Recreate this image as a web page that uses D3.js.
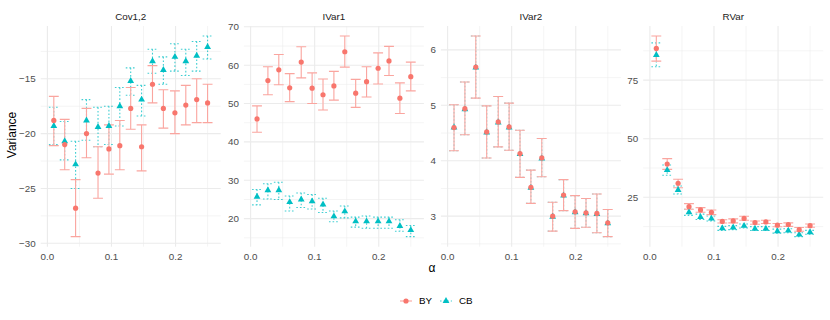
<!DOCTYPE html>
<html>
<head>
<meta charset="utf-8">
<script src="https://cdn.jsdelivr.net/npm/d3@7"></script>
<style>
  body { margin: 0; background: #fff; }
  svg text { font-family: "Liberation Sans", Arial, sans-serif; }
</style>
</head>
<body>
<svg id="chart" width="830" height="320"></svg>
<script>
// alpha values on the x axis
const alpha = [0.010, 0.027, 0.044, 0.061, 0.079, 0.096, 0.113, 0.130, 0.147, 0.164, 0.181, 0.199, 0.216, 0.233, 0.250];

const panelNames = ["Cov1,2", "IVar1", "IVar2", "RVar"];
const methods = ["BY", "CB"];
const xTicks = [0.0, 0.1, 0.2];
const yTicks = [[-30, -25, -20, -15], [20, 30, 40, 50, 60, 70], [3, 4, 5, 6], [25, 50, 75]];

// Cov1,2
const cov_BY    = [-18.8, -21.0, -26.8, -20.0, -23.6, -21.4, -21.1, -17.7, -21.2, -15.5, -17.7, -18.1, -17.4, -16.9, -17.2];
const cov_BY_lo = [-21.1, -23.3, -29.4, -22.2, -25.9, -23.7, -23.3, -19.6, -23.4, -17.2, -19.5, -20.0, -19.2, -19.0, -19.0];
const cov_BY_hi = [-16.6, -18.7, -24.2, -17.7, -21.2, -19.2, -18.8, -15.8, -19.2, -13.8, -16.0, -16.1, -15.6, -15.0, -15.5];
const cov_CB    = [-19.3, -20.7, -22.8, -18.8, -19.4, -19.3, -17.5, -15.2, -16.9, -13.4, -14.2, -13.0, -13.4, -12.9, -12.1];
const cov_CB_lo = [-21.0, -22.4, -25.0, -20.6, -21.2, -21.0, -19.3, -16.5, -18.4, -14.5, -15.5, -14.3, -14.7, -14.3, -13.2];
const cov_CB_hi = [-17.6, -18.9, -20.7, -16.9, -17.6, -17.5, -15.8, -14.0, -15.6, -12.3, -13.0, -11.8, -12.3, -11.6, -11.1];

// IVar1
const iv1_BY    = [46.0, 56.0, 58.8, 54.1, 60.8, 54.0, 52.3, 54.6, 63.5, 52.7, 55.7, 59.2, 61.1, 51.4, 57.0];
const iv1_BY_lo = [42.5, 52.3, 54.9, 50.5, 56.7, 50.0, 48.3, 50.9, 59.5, 49.0, 51.7, 55.1, 57.3, 47.4, 53.3];
const iv1_BY_hi = [49.4, 59.6, 62.8, 57.8, 64.8, 58.0, 56.4, 58.4, 67.6, 56.3, 59.6, 63.2, 64.9, 55.4, 60.8];
const iv1_CB    = [25.7, 27.4, 27.4, 24.3, 25.0, 24.5, 23.7, 20.6, 21.9, 19.3, 19.3, 19.3, 19.3, 18.1, 17.0];
const iv1_CB_lo = [23.6, 25.1, 25.0, 22.0, 22.9, 22.5, 21.6, 19.2, 20.2, 17.8, 17.5, 17.5, 17.5, 16.7, 15.3];
const iv1_CB_hi = [27.6, 29.1, 29.5, 25.9, 26.7, 26.3, 25.3, 22.0, 23.3, 20.4, 20.7, 20.4, 20.4, 19.7, 18.2];

// IVar2
const iv2_BY    = [4.60, 4.94, 5.69, 4.52, 4.70, 4.61, 4.13, 3.52, 4.05, 3.00, 3.38, 3.08, 3.06, 3.05, 2.88];
const iv2_BY_lo = [4.18, 4.47, 5.13, 4.05, 4.25, 4.19, 3.70, 3.23, 3.71, 2.73, 3.10, 2.78, 2.80, 2.70, 2.63];
const iv2_BY_hi = [5.01, 5.42, 6.25, 4.99, 5.16, 5.04, 4.55, 3.83, 4.40, 3.25, 3.66, 3.37, 3.32, 3.40, 3.12];
const iv2_CB    = [4.60, 4.93, 5.68, 4.51, 4.69, 4.60, 4.12, 3.51, 4.04, 2.99, 3.37, 3.07, 3.05, 3.04, 2.87];
const iv2_CB_lo = [4.18, 4.47, 5.13, 4.05, 4.25, 4.19, 3.70, 3.23, 3.71, 2.73, 3.10, 2.78, 2.80, 2.70, 2.63];
const iv2_CB_hi = [5.01, 5.42, 6.25, 4.99, 5.16, 5.04, 4.55, 3.83, 4.40, 3.25, 3.66, 3.37, 3.32, 3.40, 3.12];

// RVar
const rv_BY    = [88.5, 39.2, 31.0, 21.0, 19.6, 18.6, 14.7, 14.9, 16.0, 14.2, 14.5, 13.1, 13.4, 11.2, 12.9];
const rv_BY_lo = [83.1, 36.9, 29.1, 19.9, 18.6, 17.6, 14.0, 14.1, 15.2, 13.5, 13.8, 12.4, 12.6, 10.5, 12.2];
const rv_BY_hi = [93.8, 41.5, 32.7, 22.3, 20.6, 19.6, 15.4, 15.8, 16.9, 14.9, 15.2, 13.8, 14.1, 12.1, 13.6];
const rv_CB    = [85.7, 36.6, 28.1, 18.6, 16.6, 15.9, 11.8, 12.1, 12.8, 11.6, 11.6, 10.5, 10.8, 9.1, 10.1];
const rv_CB_lo = [80.7, 34.4, 26.4, 17.3, 15.5, 14.9, 10.9, 11.2, 11.9, 10.8, 10.8, 9.7, 9.9, 8.2, 9.2];
const rv_CB_hi = [90.9, 38.8, 29.8, 19.9, 17.8, 17.0, 12.6, 12.9, 13.6, 12.5, 12.5, 11.4, 11.6, 9.9, 10.9];

const panelData = [
    { BY: [cov_BY, cov_BY_lo, cov_BY_hi], CB: [cov_CB, cov_CB_lo, cov_CB_hi] },
    { BY: [iv1_BY, iv1_BY_lo, iv1_BY_hi], CB: [iv1_CB, iv1_CB_lo, iv1_CB_hi] },
    { BY: [iv2_BY, iv2_BY_lo, iv2_BY_hi], CB: [iv2_CB, iv2_CB_lo, iv2_CB_hi] },
    { BY: [rv_BY, rv_BY_lo, rv_BY_hi], CB: [rv_CB, rv_CB_lo, rv_CB_hi] }
];

const colors = { BY: "#F8766D", CB: "#00BFC4" };

// layout
const panelLeft = [40.7, 243.9, 440.9, 643.2];
const panelW = 180;
const panelTop = 26, panelBottom = 246.7;
const halfW = 0.0077;      // half width of the error bar caps (alpha units)

const svg = d3.select("#chart");

function expand(lo, hi) {
    const pad = (hi - lo) * 0.05;
    return [lo - pad, hi + pad];
}
const fmt = v => String(v).replace("-", "\u2212");

const xDom = expand(d3.min(alpha) - halfW, d3.max(alpha) + halfW);

panelData.forEach(function(pd, p) {
    const x = d3.scaleLinear().domain(xDom).range([panelLeft[p], panelLeft[p] + panelW]);
    const yMin = d3.min(methods, m => d3.min(pd[m][1]));
    const yMax = d3.max(methods, m => d3.max(pd[m][2]));
    const y = d3.scaleLinear().domain(expand(yMin, yMax)).range([panelBottom, panelTop]);

    const g = svg.append("g").attr("class", "panel");

    // minor grid
    const ticks = yTicks[p];
    const step = ticks[1] - ticks[0];
    const yMinor = d3.range(ticks[0] - step / 2, ticks[ticks.length - 1] + step, step)
        .filter(v => v > y.domain()[0] && v < y.domain()[1]);
    const xMinor = [0.05, 0.15, 0.25];
    g.selectAll(".ymin").data(yMinor).enter().append("line")
        .attr("x1", x.range()[0]).attr("x2", x.range()[1])
        .attr("y1", d => y(d)).attr("y2", d => y(d))
        .attr("stroke", "#ebebeb").attr("stroke-width", 0.55);
    g.selectAll(".xmin").data(xMinor).enter().append("line")
        .attr("x1", d => x(d)).attr("x2", d => x(d))
        .attr("y1", panelTop).attr("y2", panelBottom)
        .attr("stroke", "#ebebeb").attr("stroke-width", 0.55);
    // major grid
    g.selectAll(".ymaj").data(ticks).enter().append("line")
        .attr("x1", x.range()[0]).attr("x2", x.range()[1])
        .attr("y1", d => y(d)).attr("y2", d => y(d))
        .attr("stroke", "#ebebeb").attr("stroke-width", 1.1);
    g.selectAll(".xmaj").data(xTicks).enter().append("line")
        .attr("x1", d => x(d)).attr("x2", d => x(d))
        .attr("y1", panelTop).attr("y2", panelBottom)
        .attr("stroke", "#ebebeb").attr("stroke-width", 1.1);

    // axes labels
    g.selectAll(".ylab").data(ticks).enter().append("text")
        .attr("x", x.range()[0] - 5).attr("y", d => y(d)).attr("dy", "0.35em")
        .attr("text-anchor", "end").attr("font-size", 9.8).attr("fill", "#4d4d4d")
        .text(fmt);
    g.selectAll(".xlab").data(xTicks).enter().append("text")
        .attr("x", d => x(d)).attr("y", panelBottom + 13)
        .attr("text-anchor", "middle").attr("font-size", 9.8).attr("fill", "#4d4d4d")
        .text(d => d.toFixed(1));

    // strip title
    g.append("text")
        .attr("x", x.range()[0] + panelW / 2).attr("y", 19.5)
        .attr("text-anchor", "middle").attr("font-size", 9.8).attr("fill", "#1a1a1a")
        .text(panelNames[p]);

    // error bars: CB (dotted) underneath, BY on top
    const barPath = d => {
        const x0 = x(d.a - halfW), x1 = x(d.a + halfW), xc = x(d.a);
        return "M" + x0 + "," + y(d.hi) + "H" + x1 +
               "M" + xc + "," + y(d.hi) + "V" + y(d.lo) +
               "M" + x0 + "," + y(d.lo) + "H" + x1;
    };
    const rowsOf = m => alpha.map((a, i) => ({ a: a, v: pd[m][0][i], lo: pd[m][1][i], hi: pd[m][2][i] }));

    g.append("g")
        .attr("stroke", colors.CB).attr("stroke-width", 1.1).attr("fill", "none")
        .attr("opacity", 0.75).attr("stroke-dasharray", "1.6,2")
        .selectAll("path").data(rowsOf("CB")).enter().append("path")
        .attr("d", barPath);
    // white knockout so the BY bars keep their own tint where they overlap CB
    g.append("g")
        .attr("stroke", "#fff").attr("stroke-width", 1.1).attr("fill", "none")
        .selectAll("path").data(rowsOf("BY")).enter().append("path")
        .attr("d", barPath);
    g.append("g")
        .attr("stroke", colors.BY).attr("stroke-width", 1.1).attr("fill", "none")
        .attr("opacity", 0.65)
        .selectAll("path").data(rowsOf("BY")).enter().append("path")
        .attr("d", barPath);

    // points: CB triangles under BY circles
    g.selectAll(".tri").data(rowsOf("CB")).enter().append("path")
        .attr("d", d3.symbol(d3.symbolTriangle, 20))
        .attr("transform", d => "translate(" + x(d.a) + "," + y(d.v) + ")")
        .attr("fill", colors.CB);
    g.selectAll(".dot").data(rowsOf("BY")).enter().append("circle")
        .attr("cx", d => x(d.a)).attr("cy", d => y(d.v)).attr("r", 2.6)
        .attr("fill", colors.BY);
});

// axis titles
svg.append("text")
    .attr("transform", "translate(16,135) rotate(-90)")
    .attr("text-anchor", "middle").attr("font-size", 12).attr("fill", "#000")
    .text("Variance");
svg.append("text")
    .attr("x", 432).attr("y", 272)
    .attr("text-anchor", "middle").attr("font-size", 12).attr("fill", "#000")
    .text("\u03b1");

// legend
const legend = svg.append("g").attr("transform", "translate(0,301)");
const legendItems = [
    { m: "BY", x: 400 },
    { m: "CB", x: 440 }
];
legendItems.forEach(function(it) {
    legend.append("line")
        .attr("x1", it.x).attr("x2", it.x + 12)
        .attr("y1", 0).attr("y2", 0)
        .attr("stroke", colors[it.m]).attr("stroke-width", 1.1)
        .attr("opacity", it.m === "BY" ? 0.65 : 0.75)
        .attr("stroke-dasharray", it.m === "CB" ? "1.6,2" : null);
    if (it.m === "BY") {
        legend.append("circle").attr("cx", it.x + 6).attr("cy", 0).attr("r", 2.6).attr("fill", colors.BY);
    } else {
        legend.append("path").attr("d", d3.symbol(d3.symbolTriangle, 20))
            .attr("transform", "translate(" + (it.x + 6) + ",0)").attr("fill", colors.CB);
    }
    legend.append("text")
        .attr("x", it.x + 19).attr("y", 0).attr("dy", "0.35em")
        .attr("font-size", 9.8).attr("fill", "#000")
        .text(it.m);
});
</script>
</body>
</html>
